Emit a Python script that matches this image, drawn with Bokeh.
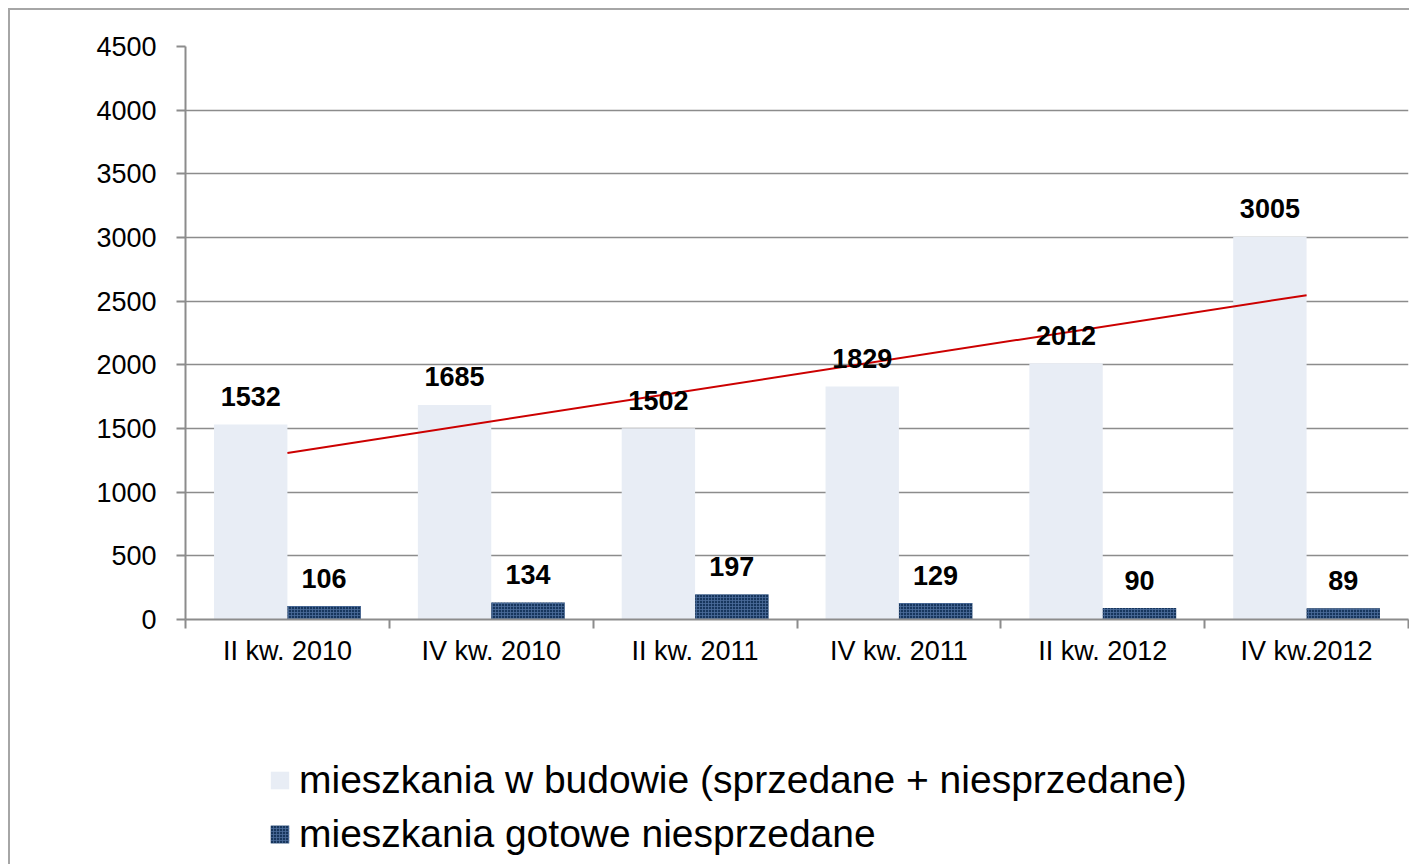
import numpy as np
from bokeh.plotting import figure
from bokeh.layouts import column
from bokeh.models import (Range1d, FixedTicker, ColumnDataSource, Legend, LegendItem)
from bokeh.core.properties import value
from bokeh.embed import file_html
from bokeh.resources import INLINE

categories = ["II kw. 2010", "IV kw. 2010", "II kw. 2011", "IV kw. 2011", "II kw. 2012", "IV kw.2012"]
w_budowie = [1532, 1685, 1502, 1829, 2012, 3005]
gotowe_niesprzedane = [106, 134, 197, 129, 90, 89]
series_names = ["mieszkania w budowie (sprzedane + niesprzedane)", "mieszkania gotowe niesprzedane"]
y_ticks = [0, 500, 1000, 1500, 2000, 2500, 3000, 3500, 4000, 4500]

FONT = "Liberation Sans"
GRAY = "#8c8c8c"
LIGHT = dict(fill_color="#E8EDF5", line_color=None)
DARK = dict(fill_color="#17365D", line_color=None, hatch_pattern="+",
            hatch_color="#4d6d9c", hatch_scale=3, hatch_weight=0.8)

n = len(categories)
centers = [i + 0.5 for i in range(n)]
off = 0.18
bw = 0.36

W = 1399
H_MAIN = 690
H_LEG = 164

p = figure(width=W, height=H_MAIN, output_backend="svg", toolbar_location=None,
           x_range=Range1d(0, n), y_range=Range1d(0, 4500),
           min_border_left=175, min_border_top=36, min_border_right=1, min_border_bottom=81)
p.background_fill_color = "white"
p.border_fill_color = "white"
p.outline_line_color = None

src1 = ColumnDataSource(dict(x=[c - off for c in centers], top=w_budowie,
                             lbl=[str(v) for v in w_budowie]))
src2 = ColumnDataSource(dict(x=[c + off for c in centers], top=gotowe_niesprzedane,
                             lbl=[str(v) for v in gotowe_niesprzedane]))

p.vbar(x="x", top="top", bottom=0, width=bw, source=src1, **LIGHT)
p.vbar(x="x", top="top", bottom=0, width=bw, source=src2, **DARK)

# linear trend line of the first series
coef = np.polyfit(np.arange(n), np.array(w_budowie, dtype=float), 1)
tx = [centers[0], centers[-1]]
ty = [coef[1], coef[0] * (n - 1) + coef[1]]
p.line(tx, ty, line_color="#CC0000", line_width=2)

for src in (src1, src2):
    p.text(x="x", y="top", text="lbl", source=src, text_align="center",
           text_baseline="alphabetic", y_offset=-28,
           text_font=value(FONT), text_font_style="bold",
           text_font_size="27px", text_color="black")

# axes
p.yaxis.ticker = FixedTicker(ticks=y_ticks)
p.yaxis.axis_line_color = GRAY
p.yaxis.axis_line_width = 2
p.yaxis.major_tick_line_color = GRAY
p.yaxis.major_tick_line_width = 2
p.yaxis.major_tick_out = 9
p.yaxis.major_tick_in = 0
p.yaxis.minor_tick_line_color = None
p.yaxis.major_label_standoff = 20
p.yaxis.major_label_text_font = FONT
p.yaxis.major_label_text_font_size = "27px"
p.yaxis.major_label_text_color = "black"

p.xaxis.ticker = FixedTicker(ticks=centers, minor_ticks=list(range(n + 1)))
p.xaxis.major_label_overrides = {c: lab for c, lab in zip(centers, categories)}
p.xaxis.axis_line_color = GRAY
p.xaxis.axis_line_width = 2
p.xaxis.major_tick_line_color = None
p.xaxis.major_tick_out = 8
p.xaxis.major_tick_in = 0
p.xaxis.minor_tick_line_color = GRAY
p.xaxis.minor_tick_line_width = 2
p.xaxis.minor_tick_out = 9
p.xaxis.minor_tick_in = 0
p.xaxis.major_label_standoff = 7
p.xaxis.major_label_text_font = FONT
p.xaxis.major_label_text_font_size = "27px"
p.xaxis.major_label_text_color = "black"

p.xgrid.grid_line_color = None
p.ygrid.ticker = FixedTicker(ticks=y_ticks)
p.ygrid.grid_line_color = GRAY
p.ygrid.grid_line_width = 1.5

# legend area (separate figure below the chart; its frame aligns with the chart's frame)
q = figure(width=W, height=H_LEG, output_backend="svg", toolbar_location=None,
           x_range=Range1d(0, 1), y_range=Range1d(0, 1),
           min_border_left=0, min_border_right=0, min_border_top=0, min_border_bottom=0)
q.axis.visible = False
q.grid.visible = False
q.outline_line_color = None
q.background_fill_color = "white"
q.border_fill_color = "white"
# legend swatch renderers, placed entirely outside the visible range
l1 = q.vbar(x=[-5], top=[-5], bottom=-6, width=0.1, **LIGHT)
l2 = q.vbar(x=[-5], top=[-5], bottom=-6, width=0.1, **DARK)

legend = Legend(items=[
    LegendItem(label=series_names[0], renderers=[l1]),
    LegendItem(label=series_names[1], renderers=[l2]),
], location=(83, 8), orientation="vertical",
    glyph_width=23, glyph_height=22, label_standoff=8, spacing=10,
    padding=0, margin=0, border_line_color=None, background_fill_alpha=0,
    label_text_font=FONT, label_text_font_size="39px",
    label_text_color="black", label_text_baseline="middle")
q.add_layout(legend, "center")

layout = column(p, q, spacing=0,
                styles={"border-left": "2px solid #a6a6a6", "border-top": "2px solid #a6a6a6",
                        "margin-left": "8px", "margin-top": "8px"})

open("out.html", "w").write(file_html(layout, INLINE))
